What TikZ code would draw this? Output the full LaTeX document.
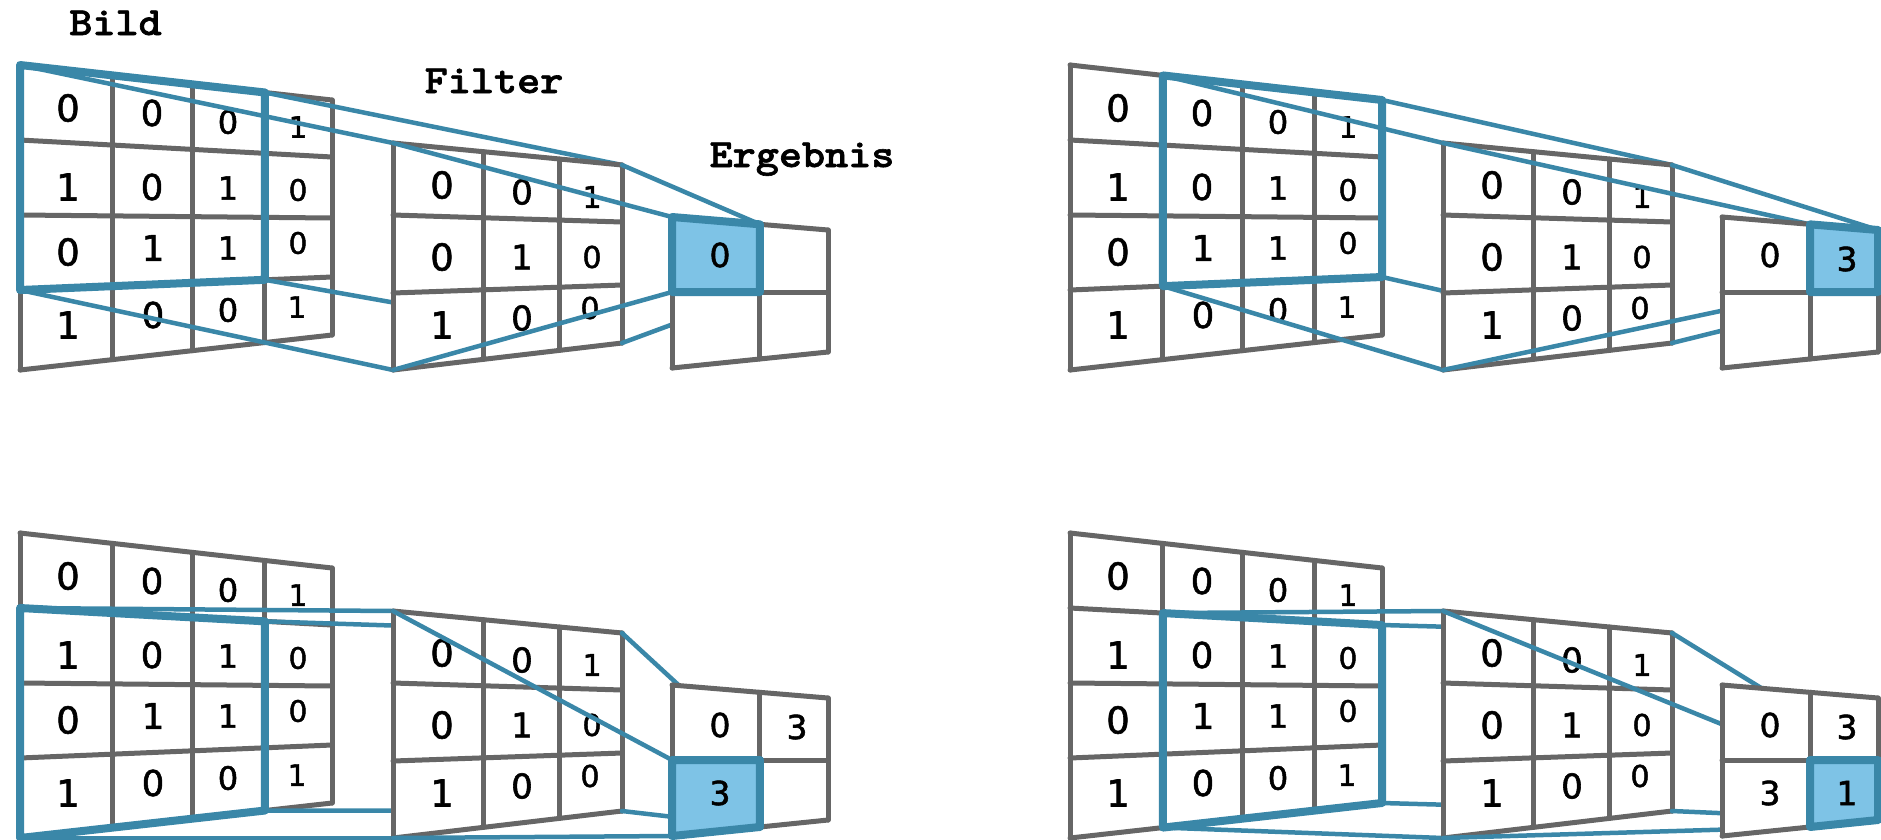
\documentclass[tikz,border=0pt]{standalone}
\usepackage{fontspec}
\newfontfamily\digfont[FakeBold=1.6]{DejaVu Sans}
\newfontfamily\titlefont{lmmonolt10-bold}[Extension=.otf, FakeBold=1.5]
\usetikzlibrary{calc}
\definecolor{gridgray}{HTML}{666666}
\definecolor{winblue}{HTML}{3A87A8}
\definecolor{cellblue}{HTML}{7EC3E6}
\tikzset{
  gridline/.style={draw=gridgray, line width=5pt, line cap=round, line join=round},
  window/.style={draw=winblue, line width=8pt, line cap=round, line join=round},
  link/.style={draw=winblue, line width=4.5pt, line cap=round},
  digit/.style={inner sep=0pt, text=black, anchor=center},
  titletext/.style={font=\titlefont\fontsize{40}{40}\selectfont, inner sep=0pt, anchor=base},
}
% grid points: #1 prefix, #2 x left, #3 x right, #4 rows i/yleft/yright, #5 cols j/fraction
\newcommand\gridpts[5]{%
  \foreach \gpi/\gpl/\gpr in {#4}{%
    \foreach \gpj/\gpf in {#5}{%
      \pgfmathsetmacro\gpx{#2+(#3-#2)*\gpf}%
      \pgfmathsetmacro\gpy{\gpl+(\gpr-\gpl)*\gpf}%
      \coordinate (#1-\gpi-\gpj) at (\gpx,\gpy);
    }%
  }%
}
% draw grid: #1 prefix, #2 rows, #3 cols
\newcommand\drawgrid[3]{%
  \fill[white] (#1-0-0) -- (#1-0-#3) -- (#1-#2-#3) -- (#1-#2-0) -- cycle;
  \foreach \gpi in {0,...,#2} \draw[gridline] (#1-\gpi-0) -- (#1-\gpi-#3);
  \foreach \gpj in {0,...,#3} \draw[gridline] (#1-0-\gpj) -- (#1-#2-\gpj);
}
% panel: #1 prefix, #2 dx, #3 dy, #4 window row, #5 window col, #6 hl row, #7 hl col, #8 result digits x/y/v
\newcommand\panel[8]{%
\begin{scope}[shift={(#2,#3)}]
  \gridpts{#1I}{20}{332}{0/65/100,1/140/157,2/215/218,3/290/277,4/370/335}{0/0,1/0.298,2/0.554,3/0.785,4/1}
  \gridpts{#1F}{393}{622}{0/143/165,1/215/222,2/293/285,3/370/343}{0/0,1/0.393,2/0.729,3/1}
  \gridpts{#1R}{672}{828}{0/217/230,1/292/292,2/368/352}{0/0,1/0.564,2/1}
  \pgfmathtruncatemacro\wrb{#4+3}
  \pgfmathtruncatemacro\wcb{#5+3}
  \pgfmathtruncatemacro\hrb{#6+1}
  \pgfmathtruncatemacro\hcb{#7+1}
  % image
  \drawgrid{#1I}{4}{4}
  \foreach \dx/\dy/\dv/\ds [count=\k] in {68/108/0/37,152/113/0/35.5,228/122/0/32,298/127/1/29.5,
      68/187/1/37,152/187/0/35.5,228/188/1/32,298/190/0/29.5,
      68/252/0/37,153/248/1/35.5,228/248/1/32,298/243/0/29.5,
      68/325/1/37,153/315/0/35.5,228/310/0/32,297/307/1/29.5}
    \node[digit, font={\digfont\fontsize{\ds}{\ds}\selectfont}] (#1Id\k) at (\dx,\dy) {\dv};
  \draw[window] (#1I-#4-#5) -- (#1I-#4-\wcb) -- (#1I-\wrb-\wcb) -- (#1I-\wrb-#5) -- cycle;
  \draw[link] (#1I-#4-#5) -- (#1F-0-0);
  \draw[link] (#1I-#4-\wcb) -- (#1F-0-3);
  \draw[link] (#1I-\wrb-\wcb) -- (#1F-3-3);
  \draw[link] (#1I-\wrb-#5) -- (#1F-3-0);
  % filter
  \drawgrid{#1F}{3}{3}
  \foreach \dx/\dy/\dv/\ds [count=\k] in {442/185/0/37,522/192/0/34,592/197/1/30,
      442/257/0/37,522/257/1/34,592/257/0/30,
      442/325/1/37,522/318/0/34,590/308/0/30}
    \node[digit, font={\digfont\fontsize{\ds}{\ds}\selectfont}] (#1Fd\k) at (\dx,\dy) {\dv};
  \draw[link] (#1F-0-0) -- (#1R-#6-#7);
  \draw[link] (#1F-0-3) -- (#1R-#6-\hcb);
  \draw[link] (#1F-3-3) -- (#1R-\hrb-\hcb);
  \draw[link] (#1F-3-0) -- (#1R-\hrb-#7);
  % result
  \drawgrid{#1R}{2}{2}
  \filldraw[fill=cellblue, window] (#1R-#6-#7) -- (#1R-#6-\hcb) -- (#1R-\hrb-\hcb) -- (#1R-\hrb-#7) -- cycle;
  \foreach \dx/\dy/\dv [count=\k] in {#8}
    \node[digit, font={\digfont\fontsize{33}{33}\selectfont}] (#1Rd\k) at (\dx,\dy) {\dv};
\end{scope}
}
\begin{document}
\begin{tikzpicture}[x=1pt, y=-1pt]
\useasboundingbox (0,0) rectangle (1881,839);
\panel{Pa}{0}{0}{0}{0}{0}{0}{720/255/0}
\panel{Pb}{1050}{0}{0}{1}{0}{1}{720/255/0,797/259/3}
\panel{Pc}{0}{468}{1}{0}{1}{0}{720/257/0,797/259/3,720/325/3}
\panel{Pd}{1050}{468}{1}{1}{1}{1}{720/257/0,797/259/3,720/325/3,797/325/1}
\node[titletext] (bild) at (115.5,35) {\scalebox{1.1}[1]{Bild}};
\node[titletext] (filter) at (494,93) {\scalebox{1.1}[1]{Filter}};
\node[titletext] (erg) at (802,167) {\scalebox{1.1}[1]{Ergebnis}};
\end{tikzpicture}
\end{document}
